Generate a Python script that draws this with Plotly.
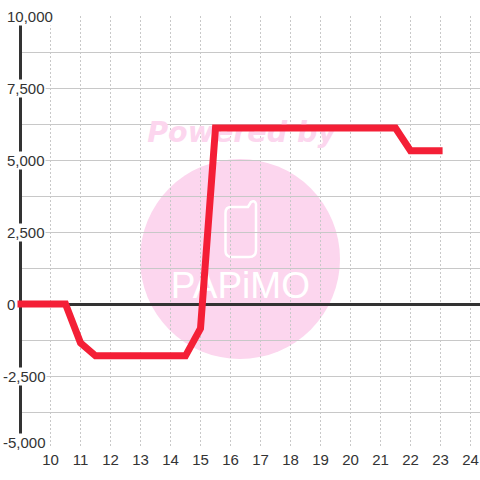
import plotly.graph_objects as go

hours = [10, 10.5, 11, 11.5, 12, 13, 14, 14.5, 15, 15.5, 16, 17, 18, 19, 20, 21, 21.5, 22, 22.5, 23.07]
values = [0, 0, -1350, -1800, -1800, -1800, -1800, -1800, -850, 6110, 6110, 6110, 6110, 6110, 6110, 6110, 6110, 5320, 5320, 5320]
line_start_hour = 8.9
x_ticks = list(range(10, 25))
y_ticks = [10000, 7500, 5000, 2500, 0, -2500, -5000]
y_labels = ["10,000", "7,500", "5,000", "2,500", "0", "-2,500", "-5,000"]
y_grid = [-5000, -3750, -2500, -1250, 0, 1250, 2500, 3750, 5000, 6250, 7500, 8750, 10000]

W = 480
L, T, B = 22, 16, 448
X_MIN, X_MAX = 9.05, 24.317
RED = "#f41f36"
PINK = "#fcd6ee"
TXT = "#333333"
X = lambda p: (p - L) / (W - L)
Y = lambda p: 1 - (p - T) / (B - T)

fig = go.Figure()

fig.add_trace(go.Scatter(x=[16.37], y=[5880], mode="text", text=["Powered by"],
                         textfont=dict(family="DejaVu Sans", size=28.5, color=PINK, weight="bold", style="italic"),
                         hoverinfo="skip", showlegend=False))
fig.add_trace(go.Scatter(x=[16.33], y=[520], mode="text", text=["PAPiMO"],
                         textfont=dict(family="Liberation Sans", size=37, color="#ffffff"),
                         hoverinfo="skip", showlegend=False))

fig.add_trace(go.Scatter(x=[X_MIN] + hours, y=[values[0]] + values, mode="lines",
                         line=dict(color=RED, width=7),
                         hoverinfo="skip", showlegend=False))

fig.update_layout(
    width=W, height=W, autosize=False,
    margin=dict(l=L, r=0, t=T, b=W - B, pad=0),
    paper_bgcolor="#ffffff", plot_bgcolor="rgba(0,0,0,0)",
    showlegend=False,
    font=dict(family="Liberation Sans", size=15, color=TXT),
    xaxis=dict(range=[X_MIN, X_MAX], tickmode="array", tickvals=x_ticks, ticktext=[str(v) for v in x_ticks],
               showgrid=True, gridcolor="#c8c8c8", griddash="2px,2px", gridwidth=1, zeroline=False,
               showline=False, ticks="", ticklabelstandoff=1, tickfont=dict(size=15, color=TXT)),
    yaxis=dict(range=[-5000, 10000], tickmode="array", tickvals=y_grid,
               showticklabels=False, showgrid=True, gridcolor="#c8c8c8", gridwidth=1,
               zeroline=True, zerolinecolor="#333333", zerolinewidth=3,
               showline=True, linecolor="#333333", linewidth=3, ticks="", layer="below traces"),
)

fig.add_shape(type="circle", xref="paper", yref="paper", layer="below",
              x0=X(140), x1=X(340), y0=Y(159), y1=Y(359), fillcolor=PINK, line=dict(width=0))

def P(a, b):
    return f"{X(a):.4f},{Y(b):.4f}"

phone = (f"M {P(225.5, 213)} Q {P(225.5, 207)} {P(231, 207)} L {P(248, 207)} L {P(251, 202)} "
         f"Q {P(255, 200)} {P(256, 204)} L {P(256, 250)} Q {P(256, 257)} {P(249, 257)} "
         f"L {P(232, 257)} Q {P(225.5, 257)} {P(225.5, 251)} Z")
fig.add_shape(type="path", xref="paper", yref="paper", layer="below", path=phone,
              line=dict(color="#ffffff", width=2.5), fillcolor="rgba(0,0,0,0)")

# the red line's opening stub runs a few pixels left of the plot area, over the axis
fig.add_shape(type="line", xref="paper", yref="y", layer="above",
              x0=(line_start_hour - X_MIN) / (X_MAX - X_MIN), x1=0, y0=values[0], y1=values[0],
              line=dict(color=RED, width=7))

for v, lab in zip(y_ticks, y_labels):
    fig.add_annotation(xref="paper", yref="y", x=X(2 if v < 0 else 6), y=v,
                       yshift=6 if v == -5000 else 0, text=lab, showarrow=False,
                       xanchor="left", yanchor="middle", bgcolor="#ffffff", borderpad=0,
                       font=dict(size=15, color=TXT))

fig.write_html("out.html", config={"displayModeBar": False},
               post_script="document.body.style.margin='0';document.documentElement.style.overflow='hidden';")
